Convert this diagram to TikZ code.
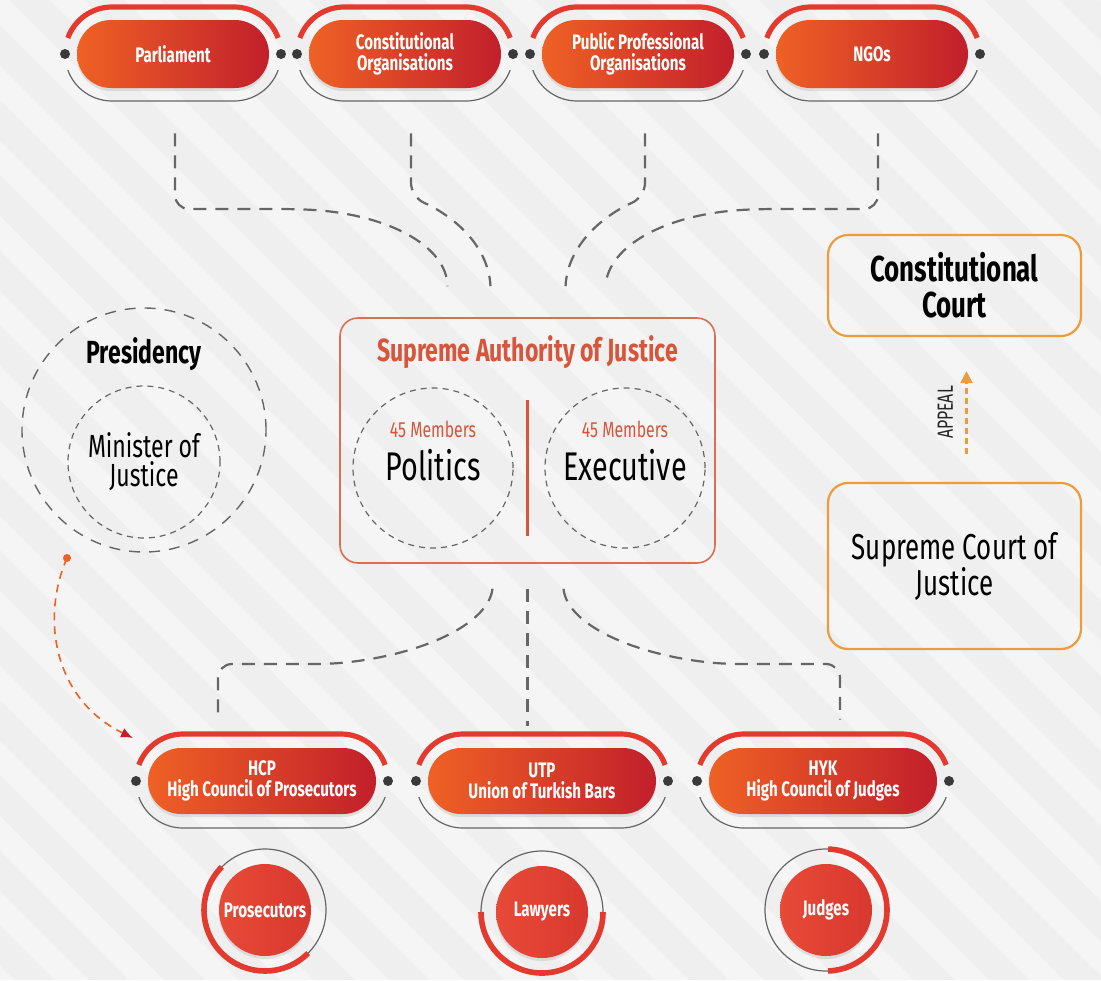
\documentclass[tikz,border=0pt]{standalone}
\usepackage{fontspec}
\setmainfont{Fira Sans}[FakeStretch=0.72]
\usepackage{xcolor}
\usepackage{tikz}
\usetikzlibrary{shapes.misc, arrows.meta, positioning, calc, shadows}

\definecolor{pillorange}{HTML}{EF6125}
\definecolor{pilldark}{HTML}{C21F2B}
\definecolor{ringred}{HTML}{E4392E}
\definecolor{dotgray}{HTML}{3A3A3A}
\definecolor{linegray}{HTML}{666666}
\definecolor{authred}{HTML}{D6553B}
\definecolor{courtorange}{HTML}{EE9B3B}
\definecolor{bggray}{HTML}{EFEFEF}
\definecolor{circred}{HTML}{E84A38}
\definecolor{circdark}{HTML}{D8382E}

% ring round a pill: node, half width
\newcommand\pillring[2]{%
  \begin{scope}[shift={(#1.center)}]
    \draw[line width=2.6pt, ringred] (-#2+47,0) ++(160:47) arc[start angle=160, end angle=90, radius=47] -- (#2-47,47) arc[start angle=90, end angle=20, radius=47];
    \draw[line width=0.6pt, linegray] (-#2+47,0) ++(200:47) arc[start angle=200, end angle=270, radius=47] -- (#2-47,-47) arc[start angle=270, end angle=340, radius=47];
    \fill[dotgray] (-#2,0) circle[radius=5] (#2,0) circle[radius=5];
  \end{scope}}

% ring round a circle: node, start and end of the red arc
\newcommand\circring[3]{%
  \draw[line width=0.6pt, linegray] (#1.center) circle[radius=61];
  \draw[line width=2.8pt, ringred] (#1.center) ++(#2:61) arc[start angle=#2, end angle=#3, radius=61];}

\begin{document}
\begin{tikzpicture}[x=0.5pt, y=0.5pt,
    pill/.style={rounded rectangle, left color=pillorange, right color=pilldark, text=white,
      font=\bfseries\fontsize{10.5}{10.5}\selectfont, align=center, inner sep=0pt,
      drop shadow={opacity=0.18, shadow xshift=0pt, shadow yshift=-1.5pt}},
    dashlink/.style={linegray, line width=1.1pt, dash pattern=on 6.5pt off 4.5pt, rounded corners=7pt},
    member/.style={circle, draw=linegray, line width=0.6pt, dash pattern=on 3pt off 2.5pt, minimum size=80pt},
    court/.style={rectangle, rounded corners=10pt, draw=courtorange, line width=1.1pt, minimum width=126.5pt, align=center},
    person/.style={circle, left color=circred, right color=circdark, text=white, minimum size=46pt, inner sep=0pt,
      font=\bfseries\fontsize{10.5}{10.5}\selectfont, drop shadow={opacity=0.18, shadow xshift=0pt, shadow yshift=-1.5pt}}
  ]
  \useasboundingbox (0,0) rectangle (1101,-980);
  \fill[bggray] (0,0) rectangle (1101,-980);
  \begin{scope}
    \clip (0,0) rectangle (1101,-980);
    \foreach \s in {-1000,-925,...,1100}
      \fill[white, opacity=0.4] (\s,0) -- ++(34,0) -- ++(980,-980) -- ++(-34,0) -- cycle;
  \end{scope}

  % top row
  \node[pill, minimum width=96pt, minimum height=34pt] (parl) at (173,-54) {Parliament};
  \node[pill, minimum width=96pt, minimum height=34pt] (corg) at (405,-54) {Constitutional\\Organisations};
  \node[pill, minimum width=96pt, minimum height=34pt] (porg) at (638,-54) {Public Professional\\Organisations};
  \node[pill, minimum width=96pt, minimum height=34pt] (ngo) at (872,-54) {NGOs};
  \pillring{parl}{108}
  \pillring{corg}{108}
  \pillring{porg}{108}
  \pillring{ngo}{108}

  % supreme authority
  \node[rectangle, rounded corners=9pt, draw=authred!85, line width=0.8pt,
    minimum width=187.5pt, minimum height=122.5pt] (saj) at (527.5,-440.5) {};
  \node[font=\bfseries\fontsize{16}{16}\selectfont, text=authred] (sajtitle) at (527.5,-352) {Supreme Authority of Justice};
  \node[member] (pol) at (433,-468) {};
  \node[member] (exe) at (625,-468) {};
  \node[align=center] (poltext) at ($(pol.center)+(0,17)$)
    {\color{authred}\fontsize{11}{11}\selectfont 45 Members\\[5pt]\fontsize{20}{20}\selectfont Politics};
  \node[align=center] (exetext) at ($(exe.center)+(0,17)$)
    {\color{authred}\fontsize{11}{11}\selectfont 45 Members\\[5pt]\fontsize{20}{20}\selectfont Executive};
  \draw[authred, line width=1.6pt] ($(saj.center)+(0,41)$) -- ($(saj.center)+(0,-95)$);

  % presidency
  \node[circle, draw=linegray, line width=0.7pt, dash pattern=on 5.5pt off 4.5pt, minimum size=122pt] (pres) at (144,-430) {};
  \node[font=\bfseries\fontsize{16}{16}\selectfont] (prestext) at (144,-354) {Presidency};
  \node[member, minimum size=76pt, align=center, font=\fontsize{16}{14.5}\selectfont] (mj) at (144,-462) {Minister of\\Justice};

  % courts
  \node[court, minimum height=50.5pt, font=\bfseries\fontsize{18}{18}\selectfont] (cc) at (954.5,-285.5) {Constitutional\\Court};
  \node[court, minimum height=83pt, font=\fontsize{18}{18}\selectfont] (scj) at (954.5,-566) {Supreme Court of\\Justice};
  \draw[courtorange, line width=1.1pt, dash pattern=on 3pt off 2pt, -{Triangle[length=6pt, width=6pt]}]
    ($(scj.north)+(12,28)$) -- node[sloped, above=3pt, text=black!85, font=\fontsize{11}{11}\selectfont] {APPEAL} ($(cc.south)+(12,-34)$);

  % bottom row
  \node[pill, minimum width=114pt, minimum height=33pt] (hcp) at (262,-781) {HCP\\High Council of Prosecutors};
  \node[pill, minimum width=114pt, minimum height=33pt] (utp) at (542,-781) {UTP\\Union of Turkish Bars};
  \node[pill, minimum width=114pt, minimum height=33pt] (hyk) at (823,-781) {HYK\\High Council of Judges};
  \pillring{hcp}{126}
  \pillring{utp}{126}
  \pillring{hyk}{126}

  \node[person] (pros) at (265,-910) {Prosecutors};
  \node[person] (law) at (542,-912) {Lawyers};
  \node[person] (jud) at (826,-910) {Judges};
  \circring{pros}{135}{315}
  \circring{law}{180}{360}
  \circring{jud}{88}{-88}

  % links into the authority
  \draw[dashlink] ($(parl.south)+(2,-45)$) -- (175,-209) -- (293,-209)
    .. controls (385,-213) and (447,-245) .. ($(saj.north)+(-80,31)$);
  \draw[dashlink] ($(corg.south)+(6,-45)$) -- (411,-197)
    .. controls (445,-212) and (488,-240) .. ($(saj.north)+(-37,31)$);
  \draw[dashlink] ($(porg.south)+(7,-45)$) -- (645,-197)
    .. controls (611,-212) and (568,-240) .. ($(saj.north)+(38,31)$);
  \draw[dashlink] ($(ngo.south)+(6,-45)$) -- (878,-209) -- (762,-209)
    .. controls (668,-213) and (608,-245) .. ($(saj.north)+(78,31)$);

  % links out of the authority
  \draw[dashlink] ($(saj.south)+(-35,-25)$) .. controls (488,-625) and (420,-655) .. (330,-664)
    -- (218,-664) -- ($(hcp.north)+(-44,28)$);
  \draw[dashlink] ($(saj.south)+(0,-25)$) -- ($(saj.south)+(0,-162)$);
  \draw[dashlink] ($(saj.south)+(36,-25)$) .. controls (567,-625) and (635,-655) .. (725,-664)
    -- (840,-664) -- ($(hyk.north)+(17,28)$);

  % minister to prosecutors
  \coordinate (mjdot) at (67,-558);
  \coordinate (mjend) at (133,-738);
  \fill[pillorange] (mjdot) circle[radius=4];
  \draw[pillorange, line width=0.8pt, dash pattern=on 4pt off 3pt, -{Latex[length=6pt, width=5pt, color=pilldark]}]
    (mjdot) .. controls (40,-620) and (55,-700) .. (mjend);
\end{tikzpicture}
\end{document}
